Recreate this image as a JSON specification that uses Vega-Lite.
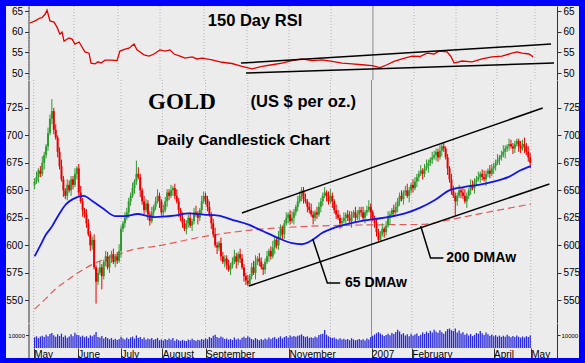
{
"$schema":"https://vega.github.io/schema/vega-lite/v6.json",
"background":"#0000ff",
"padding":{"left":5,"top":5,"right":7,"bottom":6},
"spacing":0,
"bounds":"flush",
"config":{"view":{"fill":"#ececec","stroke":null},"font":"Liberation Sans","axis":{"labelFont":"Liberation Sans","labelColor":"#000","domainColor":"#333","tickColor":"#333","grid":false,"title":null}},
"datasets":{
"months":[{"m":-0.5},{"m":22.5},{"m":45},{"m":66.5},{"m":89},{"m":111},{"m":132.5},{"m":154},{"m":196.4},{"m":217.9},{"m":238.9},{"m":258.3}],
"candles":[
{"t":0,"o":655,"h":661,"l":651,"c":658,"v":8200},{"t":1,"o":658,"h":667,"l":656,"c":662,"v":9000},{"t":2,"o":662,"h":670,"l":657,"c":668,"v":7600},{"t":3,"o":668,"h":672,"l":662,"c":665,"v":8800},{"t":4,"o":665,"h":681,"l":663,"c":675,"v":9500},{"t":5,"o":675,"h":685,"l":669,"c":682,"v":8400},{"t":6,"o":682,"h":692,"l":679,"c":690,"v":10200},{"t":7,"o":690,"h":707,"l":686,"c":702,"v":9100},{"t":8,"o":702,"h":719,"l":700,"c":715,"v":10800},{"t":9,"o":715,"h":733,"l":710,"c":722,"v":11500},
{"t":10,"o":722,"h":725,"l":701,"c":705,"v":9800},{"t":11,"o":705,"h":710,"l":696,"c":698,"v":8600},{"t":12,"o":698,"h":700,"l":680,"c":685,"v":10500},{"t":13,"o":685,"h":689,"l":669,"c":672,"v":9200},{"t":14,"o":672,"h":678,"l":658,"c":660,"v":11000},{"t":15,"o":660,"h":663,"l":644,"c":650,"v":8500},{"t":16,"o":650,"h":652,"l":642,"c":645,"v":9600},{"t":17,"o":645,"h":660,"l":641,"c":655,"v":7800},{"t":18,"o":655,"h":659,"l":648,"c":650,"v":8900},{"t":19,"o":650,"h":663,"l":645,"c":660,"v":10600},
{"t":20,"o":660,"h":663,"l":651,"c":655,"v":9000},{"t":21,"o":655,"h":670,"l":653,"c":665,"v":11800},{"t":22,"o":665,"h":672,"l":660,"c":670,"v":10100},{"t":23,"o":670,"h":674,"l":645,"c":648,"v":9800},{"t":24,"o":648,"h":654,"l":638,"c":640,"v":8700},{"t":25,"o":640,"h":643,"l":626,"c":632,"v":9500},{"t":26,"o":632,"h":634,"l":625,"c":628,"v":8300},{"t":27,"o":628,"h":633,"l":616,"c":620,"v":9100},{"t":28,"o":620,"h":624,"l":608,"c":610,"v":7800},{"t":29,"o":610,"h":613,"l":595,"c":600,"v":9900},
{"t":30,"o":600,"h":608,"l":596,"c":605,"v":9000},{"t":31,"o":605,"h":610,"l":578,"c":580,"v":10200},{"t":32,"o":580,"h":582,"l":547,"c":567,"v":12300},{"t":33,"o":567,"h":579,"l":564,"c":575,"v":8500},{"t":34,"o":575,"h":586,"l":573,"c":580,"v":8100},{"t":35,"o":580,"h":583,"l":560,"c":572,"v":9200},{"t":36,"o":572,"h":587,"l":569,"c":585,"v":7300},{"t":37,"o":585,"h":595,"l":581,"c":590,"v":8400},{"t":38,"o":590,"h":594,"l":578,"c":580,"v":7600},{"t":39,"o":580,"h":591,"l":575,"c":588,"v":6700},
{"t":40,"o":588,"h":595,"l":584,"c":592,"v":7700},{"t":41,"o":592,"h":597,"l":583,"c":585,"v":6400},{"t":42,"o":585,"h":592,"l":580,"c":590,"v":7100},{"t":43,"o":590,"h":594,"l":583,"c":586,"v":6200},{"t":44,"o":586,"h":601,"l":584,"c":595,"v":7000},{"t":45,"o":595,"h":618,"l":589,"c":615,"v":8700},{"t":46,"o":615,"h":622,"l":612,"c":620,"v":7400},{"t":47,"o":620,"h":630,"l":616,"c":625,"v":6600},{"t":48,"o":625,"h":634,"l":623,"c":630,"v":7800},{"t":49,"o":630,"h":643,"l":625,"c":640,"v":6900},
{"t":50,"o":640,"h":648,"l":636,"c":645,"v":8100},{"t":51,"o":645,"h":657,"l":643,"c":652,"v":8800},{"t":52,"o":652,"h":660,"l":647,"c":658,"v":7300},{"t":53,"o":658,"h":677,"l":655,"c":665,"v":9700},{"t":54,"o":665,"h":671,"l":660,"c":662,"v":7700},{"t":55,"o":662,"h":665,"l":644,"c":650,"v":8500},{"t":56,"o":650,"h":652,"l":637,"c":640,"v":7000},{"t":57,"o":640,"h":645,"l":628,"c":632,"v":8000},{"t":58,"o":632,"h":642,"l":630,"c":638,"v":6400},{"t":59,"o":638,"h":641,"l":623,"c":628,"v":7400},
{"t":60,"o":628,"h":631,"l":618,"c":622,"v":6700},{"t":61,"o":622,"h":635,"l":620,"c":630,"v":7600},{"t":62,"o":630,"h":637,"l":625,"c":635,"v":6300},{"t":63,"o":635,"h":644,"l":632,"c":640,"v":6900},{"t":64,"o":640,"h":651,"l":638,"c":645,"v":7800},{"t":65,"o":645,"h":648,"l":634,"c":640,"v":6000},{"t":66,"o":640,"h":642,"l":627,"c":630,"v":6600},{"t":67,"o":630,"h":637,"l":626,"c":632,"v":5700},{"t":68,"o":632,"h":644,"l":630,"c":640,"v":7000},{"t":69,"o":640,"h":651,"l":635,"c":648,"v":6200},
{"t":70,"o":648,"h":651,"l":641,"c":645,"v":7300},{"t":71,"o":645,"h":655,"l":643,"c":650,"v":6400},{"t":72,"o":650,"h":654,"l":645,"c":652,"v":7600},{"t":73,"o":652,"h":656,"l":642,"c":645,"v":5600},{"t":74,"o":645,"h":651,"l":638,"c":640,"v":6700},{"t":75,"o":640,"h":643,"l":626,"c":632,"v":5900},{"t":76,"o":632,"h":634,"l":622,"c":625,"v":5500},{"t":77,"o":625,"h":630,"l":616,"c":620,"v":6300},{"t":78,"o":620,"h":624,"l":613,"c":615,"v":5700},{"t":79,"o":615,"h":623,"l":610,"c":620,"v":5300},
{"t":80,"o":620,"h":628,"l":616,"c":625,"v":6600},{"t":81,"o":625,"h":630,"l":616,"c":618,"v":6000},{"t":82,"o":618,"h":624,"l":613,"c":622,"v":7100},{"t":83,"o":622,"h":634,"l":619,"c":630,"v":6200},{"t":84,"o":630,"h":636,"l":626,"c":628,"v":5500},{"t":85,"o":628,"h":631,"l":619,"c":625,"v":6400},{"t":86,"o":625,"h":634,"l":622,"c":632,"v":5900},{"t":87,"o":632,"h":645,"l":628,"c":640,"v":7000},{"t":88,"o":640,"h":649,"l":638,"c":645,"v":6300},{"t":89,"o":645,"h":648,"l":637,"c":642,"v":7400},
{"t":90,"o":642,"h":645,"l":631,"c":635,"v":6700},{"t":91,"o":635,"h":640,"l":626,"c":628,"v":8500},{"t":92,"o":628,"h":630,"l":615,"c":620,"v":7700},{"t":93,"o":620,"h":624,"l":607,"c":610,"v":9400},{"t":94,"o":610,"h":616,"l":598,"c":600,"v":10100},{"t":95,"o":600,"h":603,"l":592,"c":598,"v":8400},{"t":96,"o":598,"h":604,"l":595,"c":602,"v":7600},{"t":97,"o":602,"h":607,"l":586,"c":590,"v":8800},{"t":98,"o":590,"h":594,"l":583,"c":585,"v":8000},{"t":99,"o":585,"h":591,"l":580,"c":588,"v":6900},
{"t":100,"o":588,"h":591,"l":578,"c":582,"v":7300},{"t":101,"o":582,"h":587,"l":576,"c":578,"v":6400},{"t":102,"o":578,"h":584,"l":573,"c":582,"v":7000},{"t":103,"o":582,"h":589,"l":579,"c":585,"v":6200},{"t":104,"o":585,"h":596,"l":583,"c":590,"v":8100},{"t":105,"o":590,"h":593,"l":579,"c":585,"v":6600},{"t":106,"o":585,"h":594,"l":582,"c":592,"v":7400},{"t":107,"o":592,"h":597,"l":584,"c":588,"v":6300},{"t":108,"o":588,"h":592,"l":578,"c":580,"v":7800},{"t":109,"o":580,"h":583,"l":567,"c":572,"v":8700},
{"t":110,"o":572,"h":575,"l":564,"c":568,"v":7600},{"t":111,"o":568,"h":573,"l":563,"c":565,"v":9100},{"t":112,"o":565,"h":574,"l":564,"c":572,"v":8100},{"t":113,"o":572,"h":584,"l":569,"c":580,"v":7000},{"t":114,"o":580,"h":586,"l":573,"c":575,"v":6400},{"t":115,"o":575,"h":591,"l":569,"c":585,"v":7700},{"t":116,"o":585,"h":590,"l":582,"c":588,"v":6700},{"t":117,"o":588,"h":593,"l":581,"c":585,"v":6000},{"t":118,"o":585,"h":589,"l":578,"c":580,"v":7000},{"t":119,"o":580,"h":583,"l":573,"c":578,"v":6200},
{"t":120,"o":578,"h":588,"l":574,"c":585,"v":7300},{"t":121,"o":585,"h":595,"l":583,"c":590,"v":6600},{"t":122,"o":590,"h":597,"l":585,"c":595,"v":8100},{"t":123,"o":595,"h":599,"l":587,"c":590,"v":6900},{"t":124,"o":590,"h":604,"l":588,"c":598,"v":7800},{"t":125,"o":598,"h":608,"l":592,"c":605,"v":8500},{"t":126,"o":605,"h":607,"l":597,"c":600,"v":7000},{"t":127,"o":600,"h":613,"l":596,"c":608,"v":8000},{"t":128,"o":608,"h":619,"l":606,"c":615,"v":9000},{"t":129,"o":615,"h":618,"l":605,"c":610,"v":7400},
{"t":130,"o":610,"h":623,"l":606,"c":620,"v":8400},{"t":131,"o":620,"h":630,"l":618,"c":625,"v":9200},{"t":132,"o":625,"h":630,"l":620,"c":628,"v":8100},{"t":133,"o":628,"h":632,"l":619,"c":622,"v":9700},{"t":134,"o":622,"h":631,"l":620,"c":625,"v":8700},{"t":135,"o":625,"h":633,"l":619,"c":630,"v":9200},{"t":136,"o":630,"h":637,"l":627,"c":635,"v":8700},{"t":137,"o":635,"h":645,"l":631,"c":640,"v":9500},{"t":138,"o":640,"h":649,"l":638,"c":645,"v":9800},{"t":139,"o":645,"h":653,"l":640,"c":650,"v":10500},
{"t":140,"o":650,"h":653,"l":638,"c":642,"v":9200},{"t":141,"o":642,"h":647,"l":638,"c":640,"v":8500},{"t":142,"o":640,"h":642,"l":630,"c":635,"v":9000},{"t":143,"o":635,"h":639,"l":629,"c":632,"v":7800},{"t":144,"o":632,"h":638,"l":626,"c":628,"v":8300},{"t":145,"o":628,"h":631,"l":619,"c":625,"v":7600},{"t":146,"o":625,"h":632,"l":622,"c":630,"v":8800},{"t":147,"o":630,"h":635,"l":624,"c":628,"v":8000},{"t":148,"o":628,"h":639,"l":626,"c":635,"v":10000},{"t":149,"o":635,"h":643,"l":630,"c":640,"v":10500},
{"t":150,"o":640,"h":648,"l":636,"c":645,"v":11000},{"t":151,"o":645,"h":653,"l":643,"c":648,"v":13800},{"t":152,"o":648,"h":650,"l":640,"c":645,"v":10200},{"t":153,"o":645,"h":649,"l":637,"c":640,"v":9000},{"t":154,"o":640,"h":651,"l":638,"c":645,"v":8300},{"t":155,"o":645,"h":648,"l":634,"c":640,"v":7600},{"t":156,"o":640,"h":642,"l":629,"c":632,"v":8100},{"t":157,"o":632,"h":637,"l":624,"c":628,"v":7200},{"t":158,"o":628,"h":632,"l":623,"c":625,"v":6600},{"t":159,"o":625,"h":628,"l":615,"c":620,"v":7500},
{"t":160,"o":620,"h":625,"l":616,"c":622,"v":6500},{"t":161,"o":622,"h":630,"l":620,"c":625,"v":7100},{"t":162,"o":625,"h":630,"l":620,"c":628,"v":6300},{"t":163,"o":628,"h":632,"l":622,"c":625,"v":6900},{"t":164,"o":625,"h":631,"l":620,"c":622,"v":6000},{"t":165,"o":622,"h":631,"l":616,"c":628,"v":7500},{"t":166,"o":628,"h":632,"l":625,"c":630,"v":6600},{"t":167,"o":630,"h":635,"l":621,"c":625,"v":5900},{"t":168,"o":625,"h":632,"l":623,"c":628,"v":6400},{"t":169,"o":628,"h":635,"l":623,"c":632,"v":7000},
{"t":170,"o":632,"h":635,"l":626,"c":630,"v":6200},{"t":171,"o":630,"h":635,"l":623,"c":625,"v":6800},{"t":172,"o":625,"h":632,"l":620,"c":630,"v":5800},{"t":173,"o":630,"h":636,"l":627,"c":632,"v":7400},{"t":174,"o":632,"h":641,"l":630,"c":635,"v":6500},{"t":175,"o":635,"h":638,"l":624,"c":630,"v":8500},{"t":176,"o":630,"h":632,"l":622,"c":625,"v":9500},{"t":177,"o":625,"h":627,"l":616,"c":620,"v":10400},{"t":178,"o":620,"h":625,"l":608,"c":612,"v":11400},{"t":179,"o":612,"h":615,"l":603,"c":605,"v":12200},
{"t":180,"o":605,"h":613,"l":604,"c":610,"v":11100},{"t":181,"o":610,"h":620,"l":608,"c":615,"v":10200},{"t":182,"o":615,"h":617,"l":607,"c":612,"v":9200},{"t":183,"o":612,"h":622,"l":609,"c":618,"v":10000},{"t":184,"o":618,"h":631,"l":616,"c":625,"v":11000},{"t":185,"o":625,"h":631,"l":619,"c":628,"v":9900},{"t":186,"o":628,"h":634,"l":625,"c":632,"v":11600},{"t":187,"o":632,"h":637,"l":626,"c":630,"v":10700},{"t":188,"o":630,"h":639,"l":628,"c":635,"v":12400},{"t":189,"o":635,"h":643,"l":630,"c":640,"v":14000},
{"t":190,"o":640,"h":648,"l":636,"c":645,"v":12700},{"t":191,"o":645,"h":650,"l":640,"c":642,"v":10500},{"t":192,"o":642,"h":650,"l":637,"c":648,"v":11400},{"t":193,"o":648,"h":654,"l":645,"c":650,"v":9700},{"t":194,"o":650,"h":656,"l":643,"c":645,"v":10600},{"t":195,"o":645,"h":653,"l":639,"c":650,"v":9000},{"t":196,"o":650,"h":657,"l":647,"c":655,"v":11000},{"t":197,"o":655,"h":660,"l":648,"c":652,"v":9500},{"t":198,"o":652,"h":662,"l":650,"c":658,"v":10400},{"t":199,"o":658,"h":665,"l":653,"c":662,"v":11200},
{"t":200,"o":662,"h":668,"l":658,"c":665,"v":9200},{"t":201,"o":665,"h":673,"l":663,"c":668,"v":10100},{"t":202,"o":668,"h":670,"l":660,"c":665,"v":12000},{"t":203,"o":665,"h":674,"l":662,"c":670,"v":10900},{"t":204,"o":670,"h":678,"l":668,"c":672,"v":12600},{"t":205,"o":672,"h":678,"l":666,"c":675,"v":11500},{"t":206,"o":675,"h":680,"l":672,"c":678,"v":13200},{"t":207,"o":678,"h":685,"l":674,"c":680,"v":11900},{"t":208,"o":680,"h":686,"l":678,"c":682,"v":14000},{"t":209,"o":682,"h":688,"l":677,"c":685,"v":12500},
{"t":210,"o":685,"h":688,"l":676,"c":680,"v":11700},{"t":211,"o":680,"h":691,"l":678,"c":686,"v":13600},{"t":212,"o":686,"h":693,"l":681,"c":690,"v":12200},{"t":213,"o":690,"h":694,"l":685,"c":688,"v":10900},{"t":214,"o":688,"h":690,"l":678,"c":680,"v":12900},{"t":215,"o":680,"h":683,"l":664,"c":670,"v":14500},{"t":216,"o":670,"h":672,"l":657,"c":660,"v":15000},{"t":217,"o":660,"h":665,"l":646,"c":650,"v":13700},{"t":218,"o":650,"h":654,"l":643,"c":645,"v":13100},{"t":219,"o":645,"h":648,"l":627,"c":640,"v":15000},
{"t":220,"o":640,"h":648,"l":636,"c":645,"v":12000},{"t":221,"o":645,"h":655,"l":643,"c":650,"v":13500},{"t":222,"o":650,"h":652,"l":643,"c":648,"v":11100},{"t":223,"o":648,"h":652,"l":642,"c":645,"v":12100},{"t":224,"o":645,"h":651,"l":638,"c":640,"v":10200},{"t":225,"o":640,"h":648,"l":634,"c":645,"v":11200},{"t":226,"o":645,"h":652,"l":642,"c":650,"v":9600},{"t":227,"o":650,"h":660,"l":646,"c":655,"v":10700},{"t":228,"o":655,"h":659,"l":650,"c":652,"v":9200},{"t":229,"o":652,"h":661,"l":647,"c":658,"v":10100},
{"t":230,"o":658,"h":663,"l":654,"c":660,"v":11600},{"t":231,"o":660,"h":667,"l":658,"c":662,"v":10900},{"t":232,"o":662,"h":667,"l":657,"c":665,"v":13000},{"t":233,"o":665,"h":669,"l":659,"c":662,"v":11400},{"t":234,"o":662,"h":668,"l":658,"c":660,"v":10000},{"t":235,"o":660,"h":668,"l":654,"c":665,"v":11900},{"t":236,"o":665,"h":670,"l":662,"c":668,"v":10500},{"t":237,"o":668,"h":673,"l":661,"c":665,"v":9500},{"t":238,"o":665,"h":674,"l":663,"c":670,"v":10400},{"t":239,"o":670,"h":675,"l":665,"c":672,"v":9000},
{"t":240,"o":672,"h":678,"l":668,"c":675,"v":9900},{"t":241,"o":675,"h":683,"l":673,"c":678,"v":8700},{"t":242,"o":678,"h":682,"l":673,"c":680,"v":9500},{"t":243,"o":680,"h":686,"l":677,"c":682,"v":8500},{"t":244,"o":682,"h":691,"l":680,"c":685,"v":9400},{"t":245,"o":685,"h":691,"l":679,"c":688,"v":8600},{"t":246,"o":688,"h":692,"l":685,"c":690,"v":10200},{"t":247,"o":690,"h":697,"l":686,"c":692,"v":9100},{"t":248,"o":692,"h":696,"l":688,"c":690,"v":8200},{"t":249,"o":690,"h":693,"l":683,"c":688,"v":9200},
{"t":250,"o":688,"h":695,"l":684,"c":692,"v":8500},{"t":251,"o":692,"h":697,"l":690,"c":695,"v":9600},{"t":252,"o":695,"h":697,"l":685,"c":690,"v":8700},{"t":253,"o":690,"h":695,"l":684,"c":688,"v":8000},{"t":254,"o":688,"h":696,"l":686,"c":692,"v":8900},{"t":255,"o":692,"h":698,"l":684,"c":690,"v":8100},{"t":256,"o":690,"h":693,"l":682,"c":685,"v":9100},{"t":257,"o":685,"h":690,"l":676,"c":680,"v":8400},{"t":258,"o":680,"h":684,"l":670,"c":675,"v":9700}
],
"rsi":[{"t":0,"r":62.1},{"t":2.6,"r":62.6},{"t":5.1,"r":63.3},{"t":6.1,"r":63.4},{"t":7.7,"r":64.2},{"t":8.7,"r":65.2},{"t":10.2,"r":62.6},{"t":12.3,"r":62.3},{"t":13.8,"r":61.1},{"t":15.3,"r":59.4},{"t":16.4,"r":59.9},{"t":17.4,"r":57.7},{"t":19.9,"r":58.5},{"t":21.5,"r":58.2},{"t":23,"r":57.0},{"t":25.1,"r":57.5},{"t":26.6,"r":56.3},{"t":28.1,"r":55.1},{"t":30.2,"r":54.8},{"t":31.2,"r":52.4},{"t":33.2,"r":52.2},{"t":34.8,"r":52.7},{"t":36.3,"r":52.4},{"t":38.4,"r":53.1},{"t":41.9,"r":53.1},{"t":44.5,"r":53.0},{"t":46,"r":55.3},{"t":48.6,"r":55.8},{"t":50.6,"r":56.0},{"t":53.2,"r":57.0},{"t":54.7,"r":55.6},{"t":56.3,"r":55.1},{"t":58.3,"r":54.4},{"t":60.9,"r":54.1},{"t":63.4,"r":54.6},{"t":66.5,"r":55.6},{"t":69.1,"r":55.3},{"t":71.6,"r":55.6},{"t":73.7,"r":54.6},{"t":76.7,"r":54.1},{"t":79.3,"r":53.6},{"t":82.9,"r":53.9},{"t":85.4,"r":53.4},{"t":88,"r":53.6},{"t":93.1,"r":53.2},{"t":98.2,"r":52.6},{"t":103.3,"r":52.3},{"t":108.4,"r":51.6},{"t":113.6,"r":51.0},{"t":118.7,"r":51.6},{"t":123.8,"r":52.0},{"t":128.9,"r":52.4},{"t":134,"r":53.0},{"t":139.1,"r":53.4},{"t":144.2,"r":53.0},{"t":149.4,"r":53.2},{"t":154.5,"r":52.8},{"t":159.6,"r":52.4},{"t":164.7,"r":52.2},{"t":169.8,"r":52.0},{"t":174.9,"r":51.8},{"t":179,"r":51.3},{"t":182.6,"r":52.0},{"t":186.2,"r":52.8},{"t":190.3,"r":53.4},{"t":195.4,"r":54.1},{"t":199.5,"r":54.0},{"t":203.1,"r":54.8},{"t":206.6,"r":54.6},{"t":209.2,"r":55.3},{"t":213.3,"r":55.1},{"t":215.3,"r":54.0},{"t":216.9,"r":52.4},{"t":221,"r":52.9},{"t":226.1,"r":52.7},{"t":231.2,"r":53.4},{"t":236.3,"r":53.9},{"t":241.4,"r":54.1},{"t":246.5,"r":54.8},{"t":249.1,"r":55.1},{"t":251.7,"r":54.8},{"t":255.2,"r":54.6},{"t":257.3,"r":53.9}],
"ma65":[{"t":0,"p":590},{"t":3,"p":600},{"t":6,"p":610},{"t":9,"p":617},{"t":11.3,"p":624},{"t":16.4,"p":637.5},{"t":19.9,"p":642},{"t":25.6,"p":645},{"t":30.2,"p":640},{"t":35.3,"p":634},{"t":41.9,"p":626.6},{"t":47,"p":626.6},{"t":53.7,"p":628.5},{"t":58.8,"p":626.6},{"t":62.4,"p":625.7},{"t":72.6,"p":627},{"t":80.3,"p":629},{"t":88,"p":628},{"t":95.7,"p":627},{"t":103.3,"p":623},{"t":111,"p":619},{"t":118.7,"p":613},{"t":126.3,"p":607},{"t":134,"p":602},{"t":139.1,"p":601},{"t":145.3,"p":605.7},{"t":149.4,"p":611},{"t":154.5,"p":615},{"t":162.1,"p":619},{"t":169.8,"p":622},{"t":177.5,"p":624},{"t":185.2,"p":626},{"t":192.8,"p":629},{"t":200.5,"p":634},{"t":208.2,"p":641},{"t":215.9,"p":650},{"t":223.5,"p":653},{"t":231.2,"p":655},{"t":238.9,"p":658},{"t":246.5,"p":662},{"t":252.7,"p":668},{"t":258.3,"p":672}],
"ma200":[{"t":0,"p":542},{"t":6.1,"p":552},{"t":11.3,"p":561},{"t":16.4,"p":567.5},{"t":22.5,"p":575},{"t":31.7,"p":584},{"t":39.4,"p":589},{"t":52.2,"p":596.6},{"t":62.4,"p":599},{"t":88,"p":608},{"t":113.6,"p":614},{"t":139,"p":617},{"t":169.8,"p":618.5},{"t":200.5,"p":619},{"t":221,"p":625},{"t":241.4,"p":632},{"t":258.3,"p":637.5}]
},
"vconcat":[
{"width":573,"height":74,
"encoding":{"x":{"field":"t","type":"quantitative","scale":{"domain":[-12.28,280.8],"nice":false,"zero":false},"axis":null}},
"resolve":{"axis":{"x":"independent","y":"independent"}},
"layer":[
{"data":{"name":"months"},"mark":{"type":"rule","color":"#b4b4b4","strokeDash":[1,2]},"encoding":{"x":{"field":"m","type":"quantitative","axis":null}}},
{"data":{"values":[{"m":175.4}]},"mark":{"type":"rule","color":"#8c8c8c"},"encoding":{"x":{"field":"m","type":"quantitative","axis":null}}},
{"data":{"values":[{"g":55},{"g":60},{"g":65},{"g":48.45}]},"mark":{"type":"rule","color":"#b4b4b4","strokeDash":[1,2]},"encoding":{"y":{"field":"g","type":"quantitative","axis":null},"x":{"datum":-0.75,"type":"quantitative","axis":null},"x2":{"datum":269.6}}},
{"data":{"values":[{"g":50}]},"mark":{"type":"rule","color":"#0000cc","strokeWidth":1.5},"encoding":{"y":{"field":"g","type":"quantitative","axis":null},"x":{"datum":-0.75,"type":"quantitative","axis":null},"x2":{"datum":269.6}}},
{"data":{"name":"rsi"},"mark":{"type":"line","color":"#e00000","strokeWidth":1.3},"encoding":{"y":{"field":"r","type":"quantitative","scale":{"domain":[48.31,66.21],"nice":false,"zero":false},"axis":{"orient":"left","offset":-22.5,"values":[50,55,60,65],"tickSize":4,"labelFontSize":10,"labelPadding":2,"title":null}}}},
{"data":{"values":[{"t":107.9,"r":52.4,"g":"a"},{"t":266.5,"r":57.0,"g":"a"},{"t":110.5,"r":50.0,"g":"b"},{"t":268,"r":52.4,"g":"b"}]},"mark":{"type":"line","color":"#000","strokeWidth":1.5},"encoding":{"detail":{"field":"g"},"y":{"field":"r","type":"quantitative","axis":{"orient":"right","offset":-22,"values":[50,55,60,65],"tickSize":4,"labelFontSize":10,"labelPadding":2,"title":null}}}},
{"data":{"values":[{"t":115.1,"r":62.6,"s":"150 Day RSI"}]},"mark":{"type":"text","font":"Liberation Sans","fontWeight":"bold","fontSize":16.5,"align":"center","baseline":"middle"},"encoding":{"y":{"field":"r","type":"quantitative","axis":null},"text":{"field":"s"}}}
]},
{"width":573,"height":243,
"encoding":{"x":{"field":"t","type":"quantitative","scale":{"domain":[-12.28,280.8],"nice":false,"zero":false},"axis":null}},
"resolve":{"axis":{"x":"independent","y":"independent"}},
"layer":[
{"data":{"name":"months"},"mark":{"type":"rule","color":"#b4b4b4","strokeDash":[1,2]},"encoding":{"x":{"field":"m","type":"quantitative","axis":null}}},
{"data":{"values":[{"m":175.4}]},"mark":{"type":"rule","color":"#8c8c8c"},"encoding":{"x":{"field":"m","type":"quantitative","axis":null}}},
{"data":{"values":[{"g":550},{"g":575},{"g":600},{"g":625},{"g":650},{"g":675},{"g":700},{"g":725},{"g":530.5}]},"mark":{"type":"rule","color":"#b4b4b4","strokeDash":[1,2]},"encoding":{"y":{"field":"g","type":"quantitative","axis":null},"x":{"datum":-0.75,"type":"quantitative","axis":null},"x2":{"datum":269.6}}},
{"data":{"name":"ma200"},"mark":{"type":"line","color":"#e05a5a","strokeWidth":1.2,"strokeDash":[7,4],"interpolate":"monotone"},"encoding":{"y":{"field":"p","type":"quantitative","axis":null}}},
{"data":{"name":"candles"},"mark":{"type":"rule","strokeWidth":1},"encoding":{"y":{"field":"l","type":"quantitative","scale":{"domain":[529.4,750.3],"nice":false,"zero":false},"axis":{"orient":"left","offset":-22.5,"values":[550,575,600,625,650,675,700,725],"tickSize":4,"labelFontSize":10,"labelPadding":2,"title":null}},"y2":{"field":"h"},"color":{"condition":{"test":"datum.c>=datum.o","value":"#2f9a2f"},"value":"#e80000"}}},
{"data":{"name":"candles"},"mark":{"type":"bar","width":2},"encoding":{"y":{"field":"o","type":"quantitative","axis":{"orient":"right","offset":-22,"values":[550,575,600,625,650,675,700,725],"tickSize":4,"labelFontSize":10,"labelPadding":2,"title":null}},"y2":{"field":"c"},"color":{"condition":{"test":"datum.c>=datum.o","value":"#2f9a2f"},"value":"#e80000"}}},
{"data":{"name":"ma65"},"mark":{"type":"line","color":"#1414e6","strokeWidth":1.8,"interpolate":"monotone"},"encoding":{"y":{"field":"p","type":"quantitative","axis":null}}},
{"data":{"values":[{"t":107.9,"p":629.4,"g":"a"},{"t":264.5,"p":724.8,"g":"a"},{"t":111.5,"p":563,"g":"b"},{"t":268,"p":655.7,"g":"b"},{"t":144.8,"p":605.7,"g":"c"},{"t":152.4,"p":565.7,"g":"c"},{"t":159.1,"p":565.7,"g":"c"},{"t":201,"p":617.5,"g":"d"},{"t":206.1,"p":588.5,"g":"d"},{"t":212.8,"p":588.5,"g":"d"}]},"mark":{"type":"line","color":"#000","strokeWidth":1.5},"encoding":{"detail":{"field":"g"},"y":{"field":"p","type":"quantitative","axis":null}}},
{"data":{"values":[{"t":76.7,"p":730.5,"s":"GOLD"}]},"mark":{"type":"text","font":"Liberation Serif","fontWeight":"bold","fontSize":23,"align":"center","baseline":"middle"},"encoding":{"y":{"field":"p","type":"quantitative","axis":null},"text":{"field":"s"}}},
{"data":{"values":[{"t":139.9,"p":730.5,"s":"(US $ per oz.)"}]},"mark":{"type":"text","font":"Liberation Sans","fontWeight":"bold","fontSize":16.5,"align":"center","baseline":"middle"},"encoding":{"y":{"field":"p","type":"quantitative","axis":null},"text":{"field":"s"}}},
{"data":{"values":[{"t":108.7,"p":695.7,"s":"Daily Candlestick Chart"}]},"mark":{"type":"text","font":"Liberation Sans","fontWeight":"bold","fontSize":15.5,"align":"center","baseline":"middle"},"encoding":{"y":{"field":"p","type":"quantitative","axis":null},"text":{"field":"s"}}},
{"data":{"values":[{"t":161.6,"p":565.7,"s":"65 DMAw"},{"t":214.3,"p":588.5,"s":"200 DMAw"}]},"mark":{"type":"text","font":"Liberation Sans","fontWeight":"bold","fontSize":14,"align":"left","baseline":"middle"},"encoding":{"y":{"field":"p","type":"quantitative","axis":null},"text":{"field":"s"}}}
]},
{"width":573,"height":35,
"encoding":{"x":{"field":"t","type":"quantitative","scale":{"domain":[-12.28,280.8],"nice":false,"zero":false}}},
"resolve":{"axis":{"x":"independent","y":"independent"}},
"layer":[
{"data":{"name":"months"},"mark":{"type":"rule","color":"#b4b4b4","strokeDash":[1,2]},"encoding":{"x":{"field":"m","type":"quantitative","axis":null},"y":{"datum":0,"type":"quantitative","axis":null},"y2":{"datum":19231}}},
{"data":{"values":[{"m":175.4}]},"mark":{"type":"rule","color":"#8c8c8c"},"encoding":{"x":{"field":"m","type":"quantitative","axis":null},"y":{"datum":0,"type":"quantitative","axis":null},"y2":{"datum":19231}}},
{"data":{"values":[{"g":10000}]},"mark":{"type":"rule","color":"#e03030","strokeDash":[6,4],"strokeWidth":1.2},"encoding":{"y":{"field":"g","type":"quantitative","axis":{"orient":"right","offset":-22,"values":[10000],"format":"d","tickSize":3,"labelFontSize":6,"labelPadding":1,"title":null}},"x":{"datum":-0.75,"type":"quantitative","axis":null},"x2":{"datum":269.6}}},
{"data":{"name":"candles"},"mark":{"type":"bar","width":1.3,"color":"#2828dc"},"encoding":{"x":{"field":"t","type":"quantitative","axis":{"orient":"bottom","offset":-10,"values":[-0.5,22.5,45,66.5,89,132.5,175.4,196.4,238.9,258.3],"labelExpr":"datum.value<0?'May':datum.value<30?'June':datum.value<50?'July':datum.value<70?'August':datum.value<100?'September':datum.value<140?'November':datum.value<180?'2007':datum.value<200?'February':datum.value<250?'April':'May'","domain":false,"ticks":true,"tickSize":10,"tickColor":"#333","labelAlign":"left","labelBaseline":"alphabetic","labelPadding":-1,"labelDx":2,"labelFontSize":10,"labelFlush":false,"labelOverlap":false,"labelBound":false,"title":null}},"y":{"field":"v","type":"quantitative","scale":{"domain":[-7692,19231],"nice":false,"zero":false},"axis":{"orient":"left","offset":-22.5,"values":[10000],"format":"d","tickSize":3,"labelFontSize":6,"labelPadding":1,"title":null}},"y2":{"datum":0}}},
{"data":{"values":[{"g":0}]},"mark":{"type":"rule","color":"#333"},"encoding":{"y":{"field":"g","type":"quantitative","axis":null},"x":{"datum":-0.75,"type":"quantitative","axis":null},"x2":{"datum":269.6}}}
]}
]
}
